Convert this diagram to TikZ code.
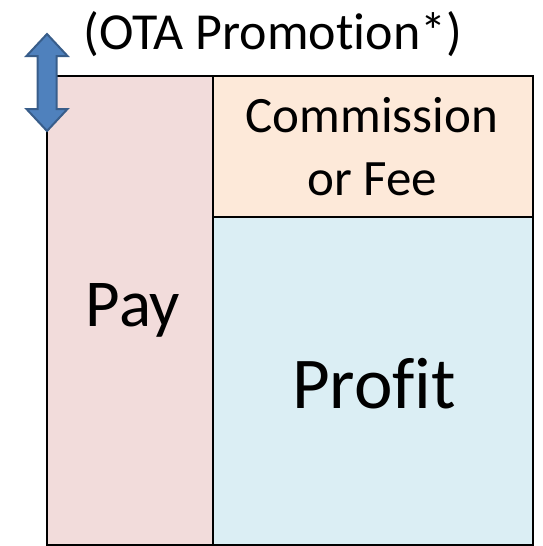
\documentclass[tikz,border=0pt]{standalone}
\usepackage{fontspec}
\setmainfont[Ligatures=NoCommon]{Carlito}
\definecolor{payfill}{HTML}{F2DCDB}
\definecolor{comfill}{HTML}{FDE9D9}
\definecolor{profill}{HTML}{DBEEF4}
\definecolor{arrfill}{HTML}{4F81BD}
\definecolor{arrline}{HTML}{385D8A}
\begin{document}
\begin{tikzpicture}[x=1pt,y=-1pt,
  boxstyle/.style={draw=black,line width=1.6pt},
  lbl/.style={inner sep=0pt,anchor=base}]
\useasboundingbox (0,0) rectangle (542,546);
% boxes
\filldraw[boxstyle,fill=payfill] (47,76) rectangle (213,545);
\filldraw[boxstyle,fill=comfill] (213,76) rectangle (533,217);
\filldraw[boxstyle,fill=profill] (213,217) rectangle (533,545);
% labels
\node[lbl,font=\fontsize{52}{62}\selectfont] (title) at (273,49) {(OTA Promotion*)};
\node[lbl,font=\fontsize{51}{62}\selectfont] (com1) at (372,132) {Commission};
\node[lbl,font=\fontsize{51}{62}\selectfont] (com2) at (372,195) {or Fee};
\node[lbl,font=\fontsize{67}{80}\selectfont] (pay) at (133,326) {Pay};
\node[lbl,font=\fontsize{73}{88}\selectfont] (profit) at (374,408) {Profit};
% double arrow
\filldraw[fill=arrfill,draw=arrline,line width=2pt,line join=miter]
  (47,34) -- (67.5,56) -- (56.5,56) -- (56.5,109) -- (67.5,109) -- (47,131)
  -- (26.5,109) -- (37.5,109) -- (37.5,56) -- (26.5,56) -- cycle;
\end{tikzpicture}
\end{document}
